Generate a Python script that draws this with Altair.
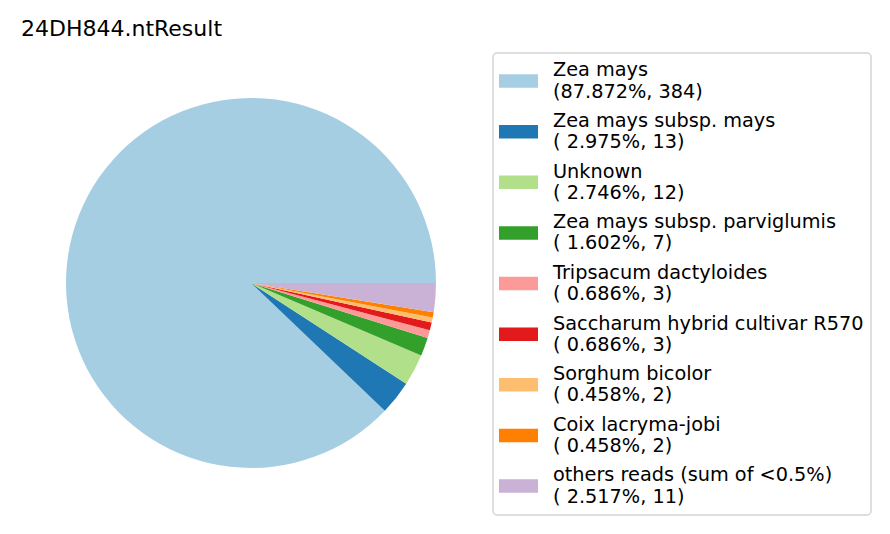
import math
import altair as alt
import pandas as pd

title_text = "24DH844.ntResult"
names = ["Zea mays", "Zea mays subsp. mays", "Unknown", "Zea mays subsp. parviglumis",
         "Tripsacum dactyloides", "Saccharum hybrid cultivar R570", "Sorghum bicolor",
         "Coix lacryma-jobi", "others reads (sum of <0.5%)"]
counts = [384, 13, 12, 7, 3, 3, 2, 2, 11]
pcts = ["87.872", " 2.975", " 2.746", " 1.602", " 0.686", " 0.686", " 0.458", " 0.458", " 2.517"]
colors = ["#a6cee3", "#1f78b4", "#b2df8a", "#33a02c", "#fb9a99", "#e31a1c", "#fdbf6f", "#ff7f00", "#cab2d6"]

df = pd.DataFrame({
    "idx": list(range(len(names))),
    "name": names,
    "count": counts,
    "label": [f"{n}\n({p}%, {c})" for n, p, c in zip(names, pcts, counts)],
})

FONT = "DejaVu Sans"
color = alt.Color("name:N", scale=alt.Scale(domain=names, range=colors), legend=None)
base = alt.Chart(df)

pie = base.mark_arc(radius=185).encode(
    theta=alt.Theta("count:Q", stack=True,
                    scale=alt.Scale(range=[math.pi / 2, math.pi / 2 - 2 * math.pi])),
    color=color,
    order=alt.Order("idx:Q", sort="ascending"),
    x=alt.value(243), y=alt.value(275),
)

title = alt.Chart(pd.DataFrame({"t": [title_text]})).mark_text(
    align="left", baseline="alphabetic", font=FONT, fontSize=22, color="#000000"
).encode(text="t:N", x=alt.value(13), y=alt.value(27.7))

frame = alt.Chart(pd.DataFrame({"a": [0]})).mark_rect(
    fill="white", stroke="#d3d3d3", strokeWidth=1.5, cornerRadius=4
).encode(x=alt.value(485), x2=alt.value(863), y=alt.value(45), y2=alt.value(507))

yenc = alt.Y("idx:Q", scale=alt.Scale(domain=[0, 8], range=[73, 478]), axis=None)

swatch = base.mark_rule(strokeWidth=13.5, strokeCap="butt").encode(
    x=alt.value(491), x2=alt.value(530), y=yenc, color=color
)

labels = base.mark_text(
    align="left", baseline="middle", font=FONT, fontSize=19.3, lineHeight=21.2,
    lineBreak="\n", color="#000000", dy=-10.6
).encode(x=alt.value(545), y=yenc, text="label:N")

chart = alt.layer(title, pie, frame, swatch, labels).properties(
    width=874, height=518,
    autosize=alt.AutoSizeParams(type="none"),
    padding=0,
).configure_view(stroke=None)

chart.save("out.html", embed_options={"renderer": "svg", "actions": False})
